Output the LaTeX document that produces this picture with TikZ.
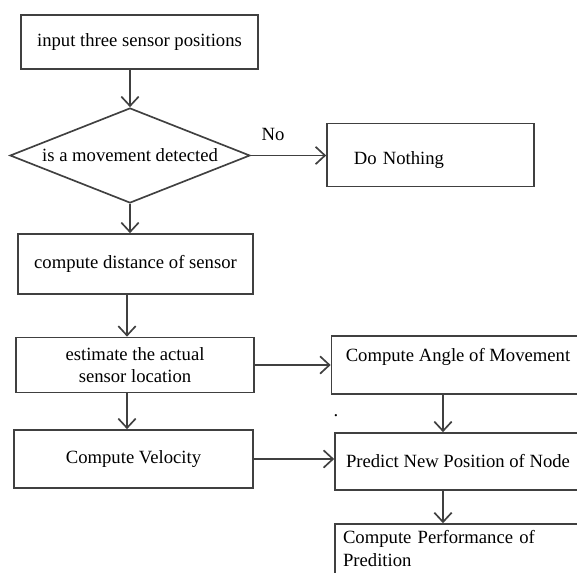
\documentclass[tikz,border=0pt]{standalone}
\usepackage{fontspec}
\setmainfont{Liberation Serif}
\usetikzlibrary{arrows.meta,positioning,shapes.geometric}
\definecolor{linegray}{rgb}{0.25,0.25,0.25}

\begin{document}
\begin{tikzpicture}[x=0.75pt,y=-0.75pt,
  box/.style={draw=linegray, line width=1.25pt, inner sep=0pt, text=black,
    font=\fontsize{14}{17}\selectfont},
  decision/.style={draw=linegray, line width=1.25pt, diamond, aspect=2.5, inner sep=0pt,
    minimum width=180pt, minimum height=71.25pt, font=\fontsize{14}{17}\selectfont},
  arr/.style={draw=linegray, line width=1.25pt, -{Straight Barb[length=7pt,width=13pt]}}
]
\path[use as bounding box] (0,0) rectangle (577,573);
\clip (0,0) rectangle (577,573);
\coordinate (col) at (443,0);
\coordinate (lcol) at (127,0);
\node[box, minimum width=177.75pt, minimum height=40.5pt] (inp) at (139.5,42) {input three sensor positions};
\node[decision] (dec) at (130,155.5) {is a movement detected};
\node[box, minimum width=155.25pt, minimum height=47.25pt, text width=115pt, inner xsep=20pt, text height=17pt, align=left] (none) at (430.5,155) {Do Nothing};
\node[font=\fontsize{14}{17}\selectfont] (no) at (273,134) {No};
\node[box, minimum width=176.25pt, minimum height=45pt] (dist) at (135.5,264) {compute distance of sensor};
\node[box, minimum width=178.5pt, minimum height=41.25pt, align=center] (est) at (135,365) {estimate the actual\\sensor location};
\node[box, minimum width=189.75pt, minimum height=43.5pt, text depth=15pt] (angle) at (458,365) {Compute Angle of Movement};
\node[box, minimum width=179.25pt, minimum height=43.5pt] (vel) at (133.5,459) {Compute Velocity};
\node[box, minimum width=184.5pt, minimum height=42.75pt] (pred) at (458,461.5) {Predict New Position of Node};
\node[box, anchor=north west, text width=190pt, inner xsep=6pt, inner ysep=5pt, text depth=40pt, align=left] (perf) at (334.2,523.2) {Compute Performance of\\Predition};
\node[font=\fontsize{14}{17}\selectfont, inner sep=0pt] (dot) at (336,416) {.};

\draw[arr] (inp.south -| dec.north) -- (dec.north);
\draw[arr] (dec.east) -- (dec.east -| none.west);
\draw[arr] (dec.south) -- (dist.north -| dec.south);
\draw[arr] (dist.south -| lcol) -- (est.north -| lcol);
\draw[arr] (est.east) -- (est.east -| angle.west);
\draw[arr] (est.south -| lcol) -- (vel.north -| lcol);
\draw[arr] (vel.east) -- (vel.east -| pred.west);
\draw[arr] (angle.south -| col) -- (pred.north -| col);
\draw[arr] (pred.south -| col) -- (perf.north -| col);
\end{tikzpicture}
\end{document}
